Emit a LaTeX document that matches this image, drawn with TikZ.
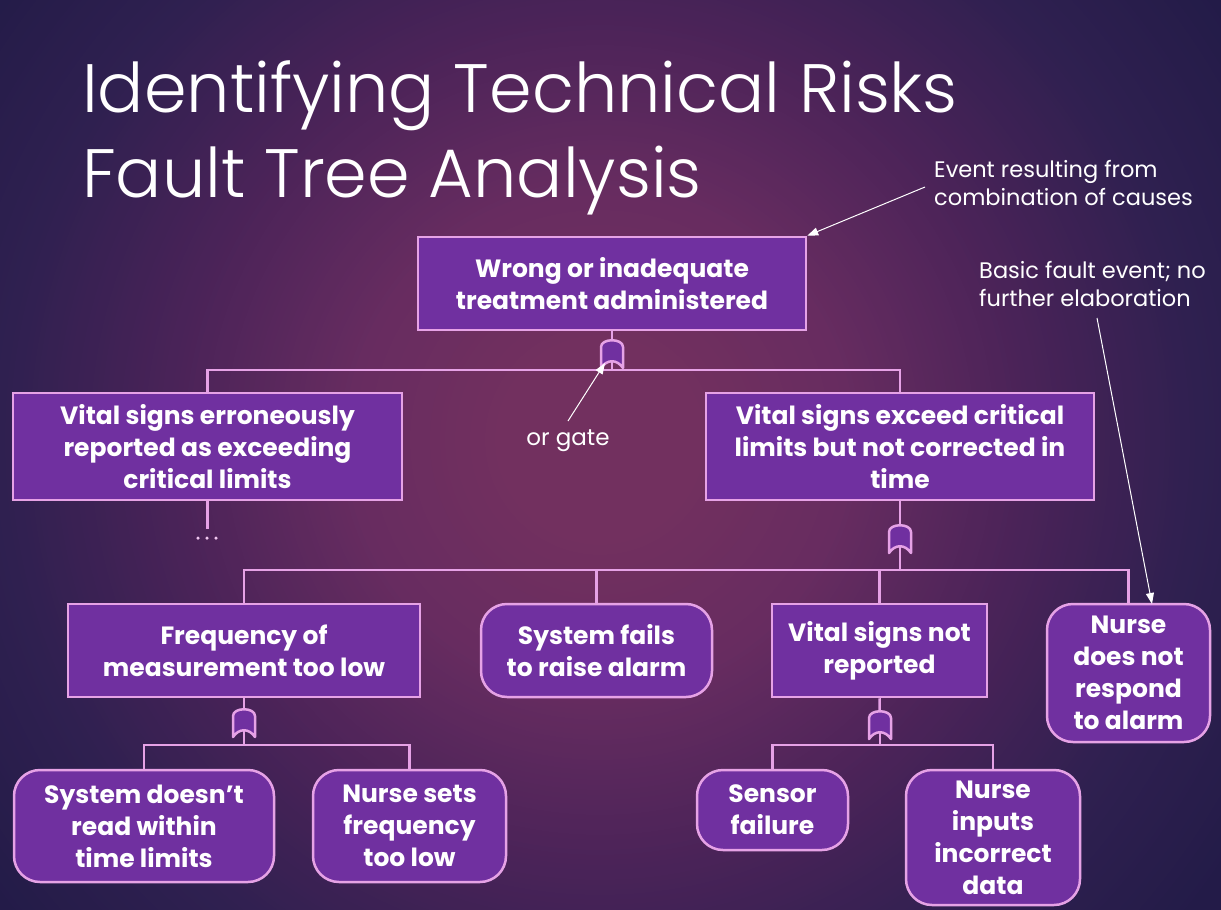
\documentclass[tikz,border=0pt]{standalone}
\usepackage{fontspec}
\setmainfont{Poppins}
\newfontfamily\titlefont{Poppins Light}
\usetikzlibrary{arrows.meta}
\definecolor{bgin}{HTML}{72305F}
\definecolor{bgc250}{HTML}{672C60}
\definecolor{bgc430}{HTML}{4A2358}
\definecolor{bgc600}{HTML}{2F2050}
\definecolor{bgout}{HTML}{231B48}
\definecolor{boxfill}{HTML}{7030A0}
\definecolor{boxline}{HTML}{E6A2E6}
\tikzset{
  box/.style={draw=boxline, line width=2.5pt, fill=boxfill, text=white, align=center,
    font=\fontsize{25}{32}\selectfont\bfseries, inner sep=0pt},
  rbox/.style={box, rounded corners=26pt},
  wire/.style={draw=boxline, line width=2.5pt},
  note/.style={text=white, align=left, anchor=north west, font=\fontsize{22.5}{28}\selectfont, inner sep=0pt},
  pointer/.style={draw=white, line width=1pt, -{Triangle[length=11pt,width=8pt]}},
  gateshape/.style={draw=boxline, line width=2.5pt, fill=boxfill, line join=round},
  dot/.style={fill=boxline!60!white, draw=none, circle, inner sep=0pt, minimum size=3.5pt},
}
\begin{document}
\begin{tikzpicture}[x=1pt,y=-1pt]
\useasboundingbox (0,0) rectangle (1221,910);
\begin{scope}
\clip (0,0) rectangle (1221,910);
\fill[bgout] (0,0) rectangle (1221,910);
\coordinate (bgc) at (600,440);
\foreach \r in {760,755,...,605}{
  \pgfmathtruncatemacro\p{(\r-600)/160*100}
  \fill[bgout!\p!bgc600] (bgc) circle[radius=\r pt];
}
\foreach \r in {600,595,...,435}{
  \pgfmathtruncatemacro\p{(\r-430)/170*100}
  \fill[bgc600!\p!bgc430] (bgc) circle[radius=\r pt];
}
\foreach \r in {430,425,...,255}{
  \pgfmathtruncatemacro\p{(\r-250)/180*100}
  \fill[bgc430!\p!bgc250] (bgc) circle[radius=\r pt];
}
\foreach \r in {250,245,...,105}{
  \pgfmathtruncatemacro\p{(\r-100)/150*100}
  \fill[bgc250!\p!bgin] (bgc) circle[radius=\r pt];
}
\fill[bgin] (bgc) circle[radius=100pt];
\end{scope}
\node[anchor=base west, text=white, font=\titlefont\fontsize{68.5}{80}\selectfont, inner sep=0pt] (t1) at (82,112) {Identifying Technical Risks};
\node[anchor=base west, text=white, font=\titlefont\fontsize{68.5}{80}\selectfont, inner sep=0pt] (t2) at (82,197) {Fault Tree Analysis};

% boxes
\node[box, minimum width=388pt, minimum height=93pt] (top) at (612,283.5) {Wrong or inadequate\\treatment administered};
\node[box, minimum width=389pt, minimum height=107pt] (l1) at (207.5,446.5) {Vital signs erroneously\\reported as exceeding\\critical limits};
\node[box, minimum width=388pt, minimum height=107pt] (r1) at (900,446.5) {Vital signs exceed critical\\limits but not corrected in\\time};
\node[box, minimum width=352pt, minimum height=93pt] (freq) at (244,650.5) {Frequency of\\measurement too low};
\node[rbox, minimum width=231pt, minimum height=93pt] (sys) at (596.5,650.5) {System fails\\to raise alarm};
\node[box, minimum width=215pt, minimum height=93pt] (vsnr) at (879.5,650.5) {Vital signs not\\reported};
\node[rbox, minimum width=163pt, minimum height=138pt] (nurse) at (1128.5,673) {Nurse\\does not\\respond\\to alarm};
\node[rbox, minimum width=260pt, minimum height=112pt] (sread) at (144,826) {System doesn't\\read within\\time limits};
\node[rbox, minimum width=193pt, minimum height=112pt] (nsets) at (409.5,826) {Nurse sets\\frequency\\too low};
\node[rbox, minimum width=151pt, minimum height=80pt] (sensor) at (772.5,810) {Sensor\\failure};
\node[rbox, minimum width=174pt, minimum height=135pt] (ninput) at (993,837.5) {Nurse\\inputs\\incorrect\\data};

% gates (OR)
\foreach \n/\gx/\gy in {g1/612/354, g2/900/539, g3/244/723, g4/880/725}{
  \coordinate (\n) at (\gx,\gy);
}
% connectors
\draw[wire] (top.south) -- (g1);
\draw[wire] (g1) -- (612,370);
\draw[wire] (l1.north) |- (612,370) -| (r1.north);
\draw[wire] (l1.south) -- ++(0,28) coordinate (l1e);
\node[dot] (d1) at (198,538) {};
\node[dot] (d2) at (207,538) {};
\node[dot] (d3) at (216,538) {};
\draw[wire] (r1.south) -- (g2);
\draw[wire] (g2) -- (900,570);
\draw[wire] (freq.north) |- (900,570);
\draw[wire] (sys.north) -- (596.5,570);
\draw[wire] (vsnr.north) -- (879.5,570);
\draw[wire] (nurse.north) |- (900,570);
\draw[wire] (freq.south) -- (g3);
\draw[wire] (g3) -- (244,745);
\draw[wire] (sread.north) |- (244,745) -| (nsets.north);
\draw[wire] (vsnr.south) -- (g4);
\draw[wire] (g4) -- (880,745);
\draw[wire] (sensor.north) |- (880,745) -| (ninput.north);

\foreach \n in {g1,g2,g3,g4}{
  \draw[gateshape] ([shift={(-11,14)}]\n) -- ([shift={(-11,-7)}]\n)
     .. controls ([shift={(-11,-16)}]\n) and ([shift={(11,-16)}]\n) .. ([shift={(11,-7)}]\n)
     -- ([shift={(11,14)}]\n)
     .. controls ([shift={(5,5)}]\n) and ([shift={(-5,5)}]\n) .. ([shift={(-11,14)}]\n) -- cycle;
  \draw[wire] ([shift={(0,9)}]\n) -- ([shift={(0,16)}]\n);
}

% annotations
\node[note] (n1) at (934,160) {Event resulting from\\combination of causes};
\node[note] (n2) at (979,261) {Basic fault event; no\\further elaboration};
\node[text=white, font=\fontsize{23}{26}\selectfont, inner sep=0pt] (orlab) at (568,441) {or gate};
\draw[pointer] (925,187) -- (top.north east);
\draw[pointer] (1097,318) -- (1152,604);
\draw[pointer] (568,421) -- (605,363);
\end{tikzpicture}
\end{document}
